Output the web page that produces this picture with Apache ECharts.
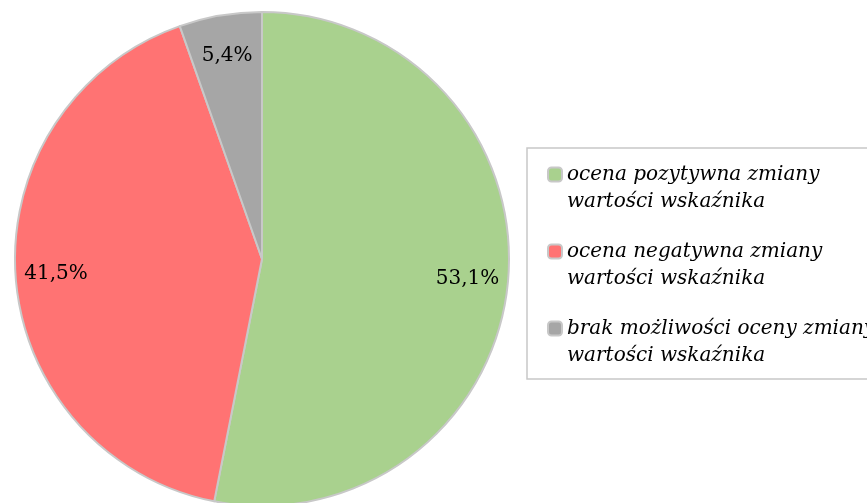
<!DOCTYPE html>
<html>
<head>
<meta charset="utf-8">
<script src="https://cdn.jsdelivr.net/npm/echarts@6/dist/echarts.min.js"></script>
<style>
  html, body { margin: 0; padding: 0; background: #fff; }
  #chart { width: 867px; height: 503px; }
</style>
</head>
<body>
<div id="chart"></div>
<script>
  const categories = [
    'ocena pozytywna zmiany\nwartości wskaźnika',
    'ocena negatywna zmiany\nwartości wskaźnika',
    'brak możliwości oceny zmiany\nwartości wskaźnika'
  ];
  const values = [53.1, 41.5, 5.4];
  const colors = ['#A9D18E', '#FF7373', '#A6A6A6'];

  const pieData = categories.map((name, i) => ({ name: name, value: values[i] }));
  const fmt = p => p.value.toFixed(1).replace('.', ',') + '%';

  let chart = echarts.init(document.getElementById('chart'));
  chart.setOption({
    animation: false,
    color: colors,
    graphic: [{
      // ramka legendy
      type: 'rect',
      shape: { x: 527, y: 148, width: 400, height: 231 },
      style: { fill: 'none', stroke: '#c8c8c8', lineWidth: 1.5 },
      z: 0
    }],
    legend: {
      orient: 'vertical',
      left: 547,
      top: 134,
      padding: 0,
      itemWidth: 14,
      itemHeight: 14,
      itemGap: -4,
      data: categories,
      // pusta linia na gorze, zeby ikona stala przy pierwszym wierszu
      formatter: name => '\n' + name,
      textStyle: {
        fontFamily: 'DejaVu Serif',
        fontStyle: 'italic',
        fontSize: 20,
        color: '#000',
        lineHeight: 27
      }
    },
    series: [{
      type: 'pie',
      center: [262, 259],
      radius: [0, 247],
      startAngle: 90,
      clockwise: true,
      silent: true,
      label: { show: false },
      labelLine: { show: false },
      itemStyle: { borderColor: '#c8c8c8', borderWidth: 2 },
      data: pieData
    }, {
      // przezroczysty pierścień tylko na etykiety
      type: 'pie',
      center: [262, 259],
      radius: [160, 247],
      startAngle: 90,
      clockwise: true,
      silent: true,
      itemStyle: { color: 'rgba(0,0,0,0)' },
      label: {
        show: true,
        position: 'inside',
        formatter: fmt,
        fontFamily: 'DejaVu Serif',
        fontSize: 20,
        color: '#000'
      },
      labelLine: { show: false },
      data: pieData
    }]
  });
</script>
</body>
</html>
